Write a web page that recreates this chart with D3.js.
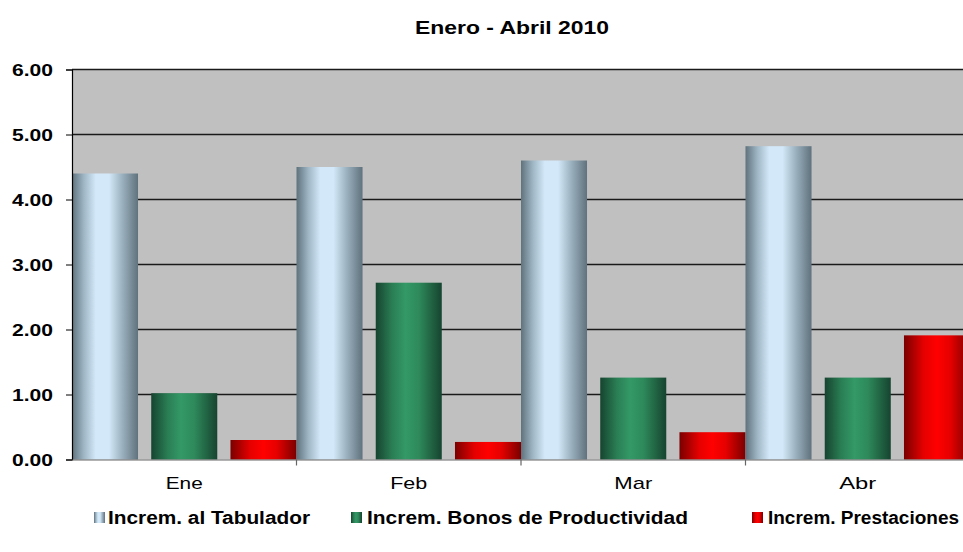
<!DOCTYPE html>
<html>
<head>
<meta charset="utf-8">
<script src="https://cdn.jsdelivr.net/npm/d3@7/dist/d3.min.js"></script>
<style>
  html, body { margin: 0; padding: 0; background: #fff; }
  svg { display: block; font-family: Arial, "Liberation Sans", sans-serif; }
</style>
</head>
<body>
<svg id="chart" width="963" height="552"></svg>
<script>
const title = "Enero - Abril 2010";
const categories = ["Ene", "Feb", "Mar", "Abr"];
const seriesNames = ["Increm. al Tabulador", "Increm. Bonos de Productividad", "Increm. Prestaciones"];
const tabulador = [4.40, 4.50, 4.60, 4.82];
const bonos = [1.02, 2.72, 1.26, 1.26];
const prestaciones = [0.30, 0.27, 0.42, 1.91];
const yTicks = [0, 1, 2, 3, 4, 5, 6];

(function () {
const seriesValues = [tabulador, bonos, prestaciones];
const gradStops = [
  [["0%", "#5f727d"], ["18%", "#9fb6c5"], ["36%", "#d3e9f9"], ["56%", "#d3e9f9"], ["76%", "#9cb1bf"], ["100%", "#5f727d"]],
  [["0%", "#164430"], ["25%", "#2a7e54"], ["45%", "#339966"], ["65%", "#2e8a5b"], ["100%", "#164430"]],
  [["0%", "#7a0000"], ["30%", "#e60000"], ["50%", "#ff0000"], ["70%", "#e60000"], ["100%", "#7a0000"]]
];

const svg = d3.select("#chart");
const defs = svg.append("defs");
gradStops.forEach((stops, i) => {
  const g = defs.append("linearGradient").attr("id", "g" + i)
    .attr("x1", "0%").attr("x2", "100%").attr("y1", "0%").attr("y2", "0%");
  stops.forEach(s => g.append("stop").attr("offset", s[0]).attr("stop-color", s[1]));
});

const pLeft = 72, pRight = 970, pTop = 69.5, pBottom = 459.5;
const y = d3.scaleLinear().domain([0, 6]).range([pBottom, pTop]);
const x0 = d3.scaleBand().domain(categories).range([pLeft, pRight]).padding(0);
const x1 = d3.scaleBand().domain(d3.range(seriesNames.length)).range([0, x0.bandwidth()])
  .paddingInner(1 / 6).paddingOuter(0);

// plot background
svg.append("rect").attr("x", pLeft).attr("y", pTop).attr("width", pRight - pLeft).attr("height", pBottom - pTop)
  .attr("fill", "#c0c0c0");

// gridlines
svg.append("g").selectAll("line").data(yTicks.filter(d => d > 0)).join("line")
  .attr("x1", pLeft).attr("x2", 963).attr("y1", d => y(d)).attr("y2", d => y(d))
  .attr("stroke", "#1a1a1a").attr("stroke-width", 1.4);

// bars
const groups = svg.append("g").selectAll("g").data(categories).join("g")
  .attr("transform", d => `translate(${x0(d)},0)`);
groups.selectAll("rect").data((c, ci) => seriesValues.map((vals, si) => ({ si, v: vals[ci] })))
  .join("rect")
  .attr("x", d => x1(d.si))
  .attr("width", x1.bandwidth())
  .attr("y", d => y(d.v))
  .attr("height", d => y(0) - y(d.v))
  .attr("fill", d => `url(#g${d.si})`);

// y axis
const yAxis = d3.axisLeft(y).tickValues(yTicks).tickSize(6).tickFormat(d3.format(".2f"));
const yg = svg.append("g").attr("transform", `translate(${pLeft},0)`).call(yAxis);
yg.select(".domain").attr("stroke", "#000").attr("stroke-width", 1.2);
yg.selectAll(".tick line").attr("stroke", "#000");
yg.selectAll(".tick text").attr("x", -19).attr("dy", "0.36em")
  .attr("font-size", 17).attr("font-weight", "bold").attr("fill", "#000")
  .attr("font-family", "Arial, 'Liberation Sans', sans-serif")
  .attr("textLength", 41).attr("lengthAdjust", "spacingAndGlyphs");

// x axis
const xAxis = d3.axisBottom(x0).tickSize(0).tickPadding(0);
const xg = svg.append("g").attr("transform", `translate(0,${pBottom})`).call(xAxis);
xg.select(".domain").attr("stroke", "#666").attr("stroke-width", 1.2);
xg.selectAll(".tick text").attr("y", 29).attr("dy", 0)
  .attr("font-size", 17).attr("fill", "#000")
  .attr("font-family", "Arial, 'Liberation Sans', sans-serif")
  .attr("textLength", d => d === "Mar" ? 38 : 37).attr("lengthAdjust", "spacingAndGlyphs");
// category boundary ticks
xg.append("g").selectAll("line").data(categories.slice(1)).join("line")
  .attr("x1", d => x0(d)).attr("x2", d => x0(d)).attr("y1", 0).attr("y2", 6)
  .attr("stroke", "#666").attr("stroke-width", 1.2);

// title
svg.append("text").attr("x", 512).attr("y", 34).attr("text-anchor", "middle")
  .attr("font-size", 18).attr("font-weight", "bold").attr("fill", "#000")
  .attr("textLength", 194).attr("lengthAdjust", "spacingAndGlyphs").text(title);

// legend
const legendPos = [
  { sx: 94, tx: 108, len: 202 },
  { sx: 351, tx: 367, len: 321 },
  { sx: 752, tx: 768, len: 191 }
];
const lg = svg.append("g").selectAll("g").data(seriesNames).join("g");
lg.append("rect").attr("x", (d, i) => legendPos[i].sx).attr("y", 512).attr("width", 11).attr("height", 11)
  .attr("fill", (d, i) => `url(#g${i})`);
lg.append("text").attr("x", (d, i) => legendPos[i].tx).attr("y", 524)
  .attr("font-size", 18).attr("font-weight", "bold").attr("fill", "#000")
  .attr("textLength", (d, i) => legendPos[i].len).attr("lengthAdjust", "spacingAndGlyphs")
  .text(d => d);
})();
</script>
</body>
</html>
